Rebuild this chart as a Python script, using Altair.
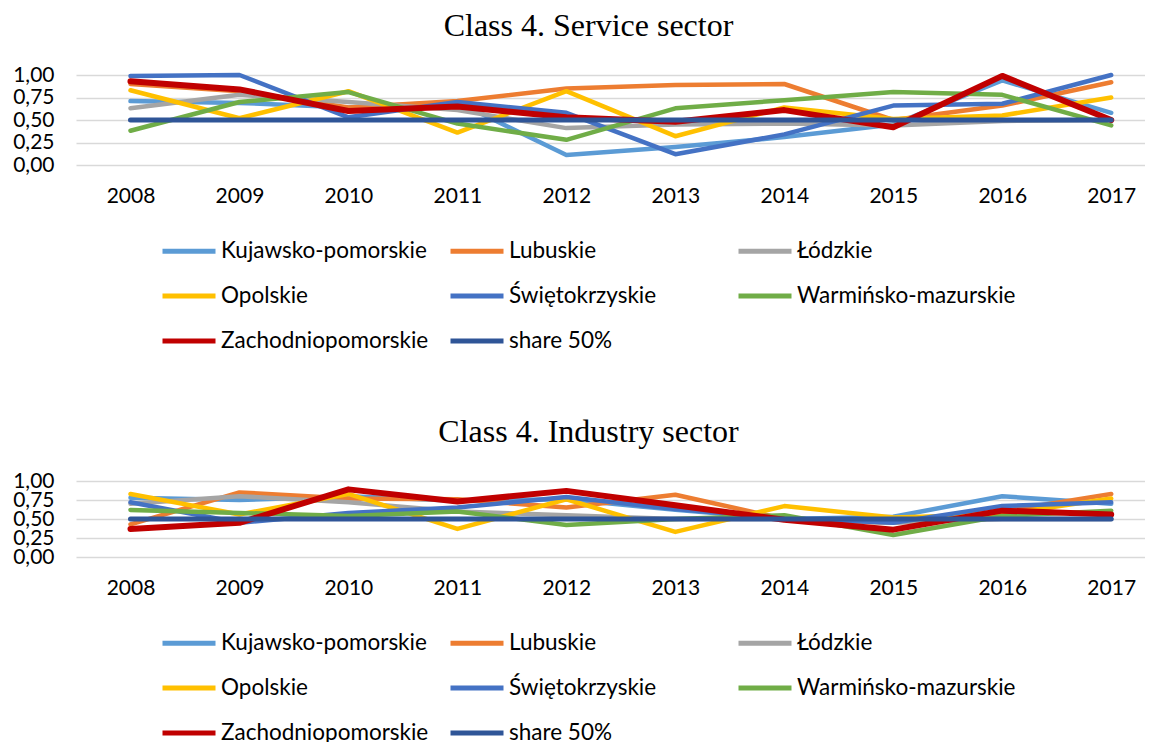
import altair as alt
import pandas as pd

years = [2008, 2009, 2010, 2011, 2012, 2013, 2014, 2015, 2016, 2017]
series = ["Kujawsko-pomorskie", "Lubuskie", "Łódzkie", "Opolskie",
          "Świętokrzyskie", "Warmińsko-mazurskie", "Zachodniopomorskie", "share 50%"]
colors = ["#5B9BD5", "#ED7D31", "#A5A5A5", "#FFC000",
          "#4472C4", "#70AD47", "#C00000", "#2F5597"]
widths = [4.5, 4.5, 4.5, 4.5, 4.5, 4.5, 6, 5]
y_ticks = [0, 0.25, 0.5, 0.75, 1.0]

# Service sector
svc_kuj = [0.71, 0.69, 0.64, 0.70, 0.11, 0.20, 0.31, 0.45, 0.94, 0.58]
svc_lub = [0.90, 0.82, 0.64, 0.71, 0.85, 0.89, 0.90, 0.50, 0.66, 0.92]
svc_lod = [0.63, 0.78, 0.70, 0.61, 0.41, 0.45, 0.46, 0.44, 0.49, 0.50]
svc_opo = [0.83, 0.52, 0.82, 0.36, 0.82, 0.32, 0.64, 0.51, 0.55, 0.75]
svc_swi = [0.99, 1.00, 0.53, 0.70, 0.58, 0.12, 0.34, 0.66, 0.68, 1.00]
svc_war = [0.38, 0.70, 0.81, 0.46, 0.28, 0.63, 0.72, 0.81, 0.78, 0.44]
svc_zac = [0.93, 0.84, 0.60, 0.65, 0.53, 0.48, 0.61, 0.42, 0.99, 0.50]
svc_share = [0.50, 0.50, 0.50, 0.50, 0.50, 0.50, 0.50, 0.50, 0.50, 0.50]

# Industry sector
ind_kuj = [0.78, 0.75, 0.80, 0.74, 0.76, 0.62, 0.50, 0.53, 0.80, 0.70]
ind_lub = [0.43, 0.85, 0.77, 0.76, 0.65, 0.82, 0.50, 0.45, 0.60, 0.83]
ind_lod = [0.70, 0.80, 0.72, 0.60, 0.55, 0.50, 0.50, 0.45, 0.50, 0.50]
ind_opo = [0.83, 0.56, 0.83, 0.37, 0.76, 0.33, 0.67, 0.52, 0.56, 0.77]
ind_swi = [0.72, 0.45, 0.58, 0.65, 0.79, 0.63, 0.51, 0.45, 0.67, 0.72]
ind_war = [0.62, 0.58, 0.54, 0.60, 0.42, 0.50, 0.55, 0.29, 0.54, 0.61]
ind_zac = [0.37, 0.45, 0.89, 0.73, 0.87, 0.68, 0.49, 0.36, 0.61, 0.56]
ind_share = [0.50, 0.50, 0.50, 0.50, 0.50, 0.50, 0.50, 0.50, 0.50, 0.50]

svc_values = [svc_kuj, svc_lub, svc_lod, svc_opo, svc_swi, svc_war, svc_zac, svc_share]
ind_values = [ind_kuj, ind_lub, ind_lod, ind_opo, ind_swi, ind_war, ind_zac, ind_share]

LABEL_FONT = "Lato"
AXIS_SIZE = 21
LEGEND_SIZE = 22.5


def to_df(values):
    rows = []
    for name, vals in zip(series, values):
        for yr, v in zip(years, vals):
            rows.append({"series": name, "year": yr, "value": v})
    return pd.DataFrame(rows)


def panel(values, title, height, legend_y):
    df = to_df(values)
    color = alt.Color(
        "series:N",
        scale=alt.Scale(domain=series, range=colors),
        legend=alt.Legend(
            title=None, orient="none", legendX=84, legendY=legend_y,
            direction="horizontal", columns=3, gridAlign="all",
            symbolType="stroke", symbolStrokeWidth=5, symbolSize=2809,
            labelFont=LABEL_FONT, labelFontSize=LEGEND_SIZE,
            labelColor="#000000", labelLimit=400,
            columnPadding=0, rowPadding=4, labelOffset=3,
        ),
    )
    x = alt.X(
        "year:Q",
        scale=alt.Scale(domain=[2007.5, 2017.31], nice=False, zero=False),
        axis=alt.Axis(values=years, format="d", grid=False, domain=False,
                      ticks=False, labelFont=LABEL_FONT, labelFontSize=AXIS_SIZE,
                      labelColor="#000000", labelPadding=20, title=None,
                      labelFlush=False, labelOverlap=False),
    )
    y = alt.Y(
        "value:Q",
        scale=alt.Scale(domain=[0, 1], nice=False, zero=True),
        axis=alt.Axis(values=y_ticks,
                      labelExpr="replace(format(datum.value, '.2f'), '.', ',')",
                      grid=True, gridColor="#D9D9D9", gridWidth=1.5,
                      domain=False, ticks=False, labelFont=LABEL_FONT,
                      labelFontSize=AXIS_SIZE, labelColor="#000000",
                      labelPadding=22, title=None, labelOverlap=False,
                      labelFlush=False),
    )
    layers = []
    for name, w in zip(series, widths):
        layers.append(
            alt.Chart(df[df["series"] == name])
            .mark_line(strokeWidth=w, strokeCap="round", strokeJoin="round")
            .encode(x=x, y=y, color=color)
        )
    return alt.layer(*layers).properties(
        width=1069, height=height,
        title=alt.TitleParams(
            text=title, font="Liberation Serif", fontSize=32,
            fontWeight="normal", color="#000000", anchor="middle",
            frame="group", dx=-22, baseline="alphabetic", offset=-4,
        ),
    )


top = panel(svc_values, "Class 4. Service sector", 90, 147)
bottom = panel(ind_values, "Class 4. Industry sector", 76, 133)

chart = (
    alt.vconcat(top, bottom, spacing=63)
    .resolve_scale(color="independent")
    .resolve_legend(color="independent")
    .properties(padding={"left": 4, "top": 2, "right": 0, "bottom": 0})
    .configure_view(stroke=None)
)

chart.save("out.html", embed_options={"renderer": "svg", "actions": False})
